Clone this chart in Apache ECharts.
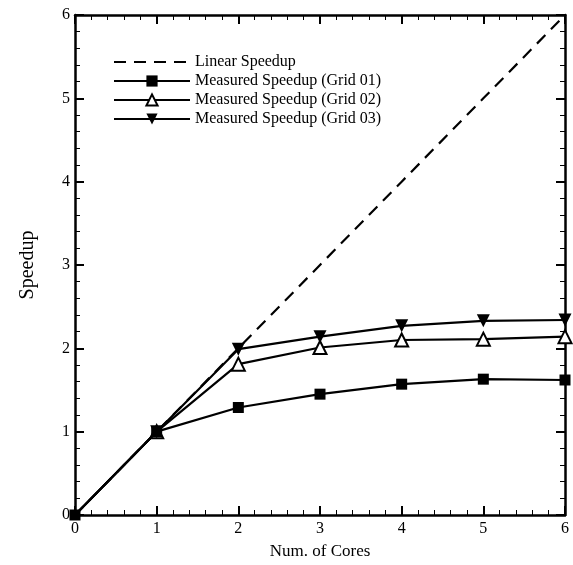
<!DOCTYPE html>
<html>
<head>
<meta charset="utf-8">
<script src="https://cdn.jsdelivr.net/npm/echarts@6/dist/echarts.min.js"></script>
<style>
  html, body { margin: 0; padding: 0; background: #fff; }
  #chart { width: 573px; height: 565px; }
</style>
</head>
<body>
<div id="chart"></div>
<script>
const cores = [0, 1, 2, 3, 4, 5, 6]
const linear = [0, 1, 2, 3, 4, 5, 6]
const grid01 = [0, 1, 1.29, 1.45, 1.57, 1.63, 1.62]
const grid02 = [0, 1, 1.81, 2.01, 2.10, 2.11, 2.14]
const grid03 = [0, 1, 1.99, 2.14, 2.27, 2.33, 2.34]

const font = 'Liberation Serif, Times New Roman, serif'
const pairs = arr => cores.map((c, i) => [c, arr[i]])
// triangles at the origin sit hidden under the square
const triSize = (v, p) => p.dataIndex === 0 ? 0 : 13

const axisBase = {
  type: 'value', min: 0, max: 6, interval: 1,
  axisLine: { show: true, onZero: false, lineStyle: { color: '#000', width: 2.5 } },
  axisTick: { show: true, inside: true, length: 9, lineStyle: { color: '#000', width: 2 } },
  minorTick: { show: true, splitNumber: 5, length: 5, lineStyle: { color: '#000', width: 1 } },
  splitLine: { show: false },
}

const chart = echarts.init(document.getElementById('chart'))
chart.setOption({
  animation: false,
  textStyle: { fontFamily: font },
  grid: { left: 75, right: 8, top: 15, bottom: 50 },
  legend: {
    left: 108, top: 49, orient: 'vertical', itemWidth: 76, itemHeight: 14, itemGap: 3,
    textStyle: { fontFamily: font, fontSize: 16, color: '#000' },
    data: [
      { name: 'Linear Speedup', itemStyle: { color: 'rgba(0,0,0,0)', borderColor: 'rgba(0,0,0,0)', borderWidth: 0, opacity: 0 } },
      'Measured Speedup (Grid 01)', 'Measured Speedup (Grid 02)', 'Measured Speedup (Grid 03)',
    ],
  },
  xAxis: [
    { ...axisBase, position: 'bottom', name: 'Num. of Cores', nameLocation: 'middle', nameGap: 28,
      nameTextStyle: { fontFamily: font, fontSize: 17, color: '#000' },
      axisLabel: { fontFamily: font, fontSize: 16, color: '#000', margin: 6 } },
    { ...axisBase, position: 'top', axisLabel: { show: false } },
  ],
  yAxis: [
    { ...axisBase, position: 'left', name: 'Speedup', nameLocation: 'middle', nameGap: 37,
      nameTextStyle: { fontFamily: font, fontSize: 20, color: '#000' },
      axisLabel: { fontFamily: font, fontSize: 16, color: '#000', margin: 5 } },
    { ...axisBase, position: 'right', axisLabel: { show: false } },
  ],
  series: [
    { name: 'Linear Speedup', type: 'line', data: pairs(linear), symbol: 'none', z: 1,
      lineStyle: { color: '#000', width: 2.2, type: [12, 8] }, itemStyle: { color: '#000' } },
    { name: 'Measured Speedup (Grid 01)', type: 'line', data: pairs(grid01), symbol: 'rect', symbolSize: 11, z: 5,
      lineStyle: { color: '#000', width: 2.2 }, itemStyle: { color: '#000' } },
    { name: 'Measured Speedup (Grid 02)', type: 'line', data: pairs(grid02), symbol: 'triangle', symbolSize: triSize, z: 3,
      lineStyle: { color: '#000', width: 2.2 }, itemStyle: { color: '#fff', borderColor: '#000', borderWidth: 2 } },
    { name: 'Measured Speedup (Grid 03)', type: 'line', data: pairs(grid03), symbol: 'triangle', symbolRotate: 180, symbolSize: triSize, z: 4,
      lineStyle: { color: '#000', width: 2.2 }, itemStyle: { color: '#000' } },
  ],
})
</script>
</body>
</html>
